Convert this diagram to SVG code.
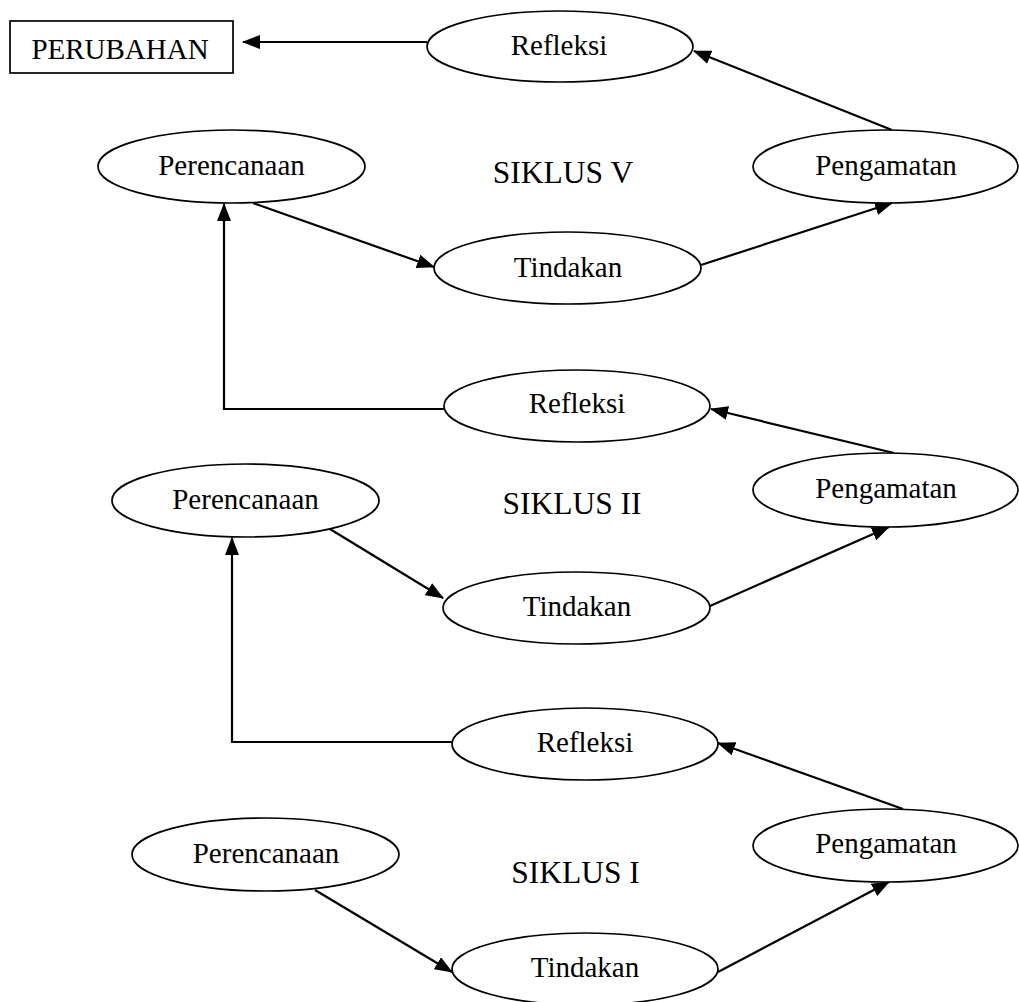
<svg xmlns="http://www.w3.org/2000/svg" width="1019" height="1002" viewBox="0 0 1019 1002">
<style>
.n{fill:#fff;stroke:#000;stroke-width:1.7}
.t{font-family:"Liberation Serif","Times New Roman",serif;font-size:29px;fill:#000;text-anchor:middle}
.s{font-family:"Liberation Serif","Times New Roman",serif;font-size:31.5px;fill:#000;text-anchor:middle}
.c{fill:none;stroke:#000;stroke-width:2.2}
</style>
<defs>
<marker id="ah" markerUnits="userSpaceOnUse" markerWidth="18" markerHeight="14" refX="17" refY="7" orient="auto">
<path d="M0,0 L18,7 L0,14 z" fill="#000"/>
</marker>
</defs>
<rect width="1019" height="1002" fill="#fff"/>
<g id="connectors">
<line class="c" x1="427" y1="42" x2="243" y2="42" marker-end="url(#ah)"/>
<line class="c" x1="892" y1="130" x2="694" y2="51" marker-end="url(#ah)"/>
<line class="c" x1="701" y1="265" x2="892" y2="203" marker-end="url(#ah)"/>
<line class="c" x1="253" y1="203" x2="434" y2="267" marker-end="url(#ah)"/>
<polyline class="c" points="444,409 224,409 224,204" marker-end="url(#ah)"/>
<line class="c" x1="894" y1="453" x2="711" y2="409" marker-end="url(#ah)"/>
<line class="c" x1="710" y1="606" x2="889" y2="527" marker-end="url(#ah)"/>
<line class="c" x1="325" y1="526" x2="443" y2="598" marker-end="url(#ah)"/>
<polyline class="c" points="452,742 232,742 232,538" marker-end="url(#ah)"/>
<line class="c" x1="903" y1="809" x2="718" y2="743" marker-end="url(#ah)"/>
<line class="c" x1="718" y1="972" x2="889" y2="882" marker-end="url(#ah)"/>
<line class="c" x1="315" y1="890" x2="452" y2="972" marker-end="url(#ah)"/>
</g>
<g id="perubahan"><rect class="n" x="10" y="21" width="223" height="52"/><text class="t" x="120" y="59">PERUBAHAN</text></g>
<g id="refleksi5"><ellipse class="n" cx="560" cy="46.5" rx="133" ry="35.5"/><text class="t" x="559" y="55">Refleksi</text></g>
<g id="perencanaan5"><ellipse class="n" cx="231.5" cy="166.5" rx="133.5" ry="36.5"/><text class="t" x="231.5" y="175">Perencanaan</text></g>
<g id="pengamatan5"><ellipse class="n" cx="885.5" cy="166.5" rx="132.5" ry="36.5"/><text class="t" x="886" y="175">Pengamatan</text></g>
<g id="tindakan5"><ellipse class="n" cx="567.5" cy="268" rx="133.5" ry="36"/><text class="t" x="568" y="277">Tindakan</text></g>
<text class="s" x="563" y="183">SIKLUS V</text>
<g id="refleksi2"><ellipse class="n" cx="577" cy="406" rx="133" ry="36"/><text class="t" x="577" y="413">Refleksi</text></g>
<g id="perencanaan2"><ellipse class="n" cx="245.5" cy="500.5" rx="133.5" ry="36.5"/><text class="t" x="245.5" y="509">Perencanaan</text></g>
<g id="pengamatan2"><ellipse class="n" cx="885.5" cy="490" rx="132.5" ry="37"/><text class="t" x="886" y="498">Pengamatan</text></g>
<g id="tindakan2"><ellipse class="n" cx="576.5" cy="608" rx="133.5" ry="36"/><text class="t" x="577" y="616">Tindakan</text></g>
<text class="s" x="572" y="514">SIKLUS II</text>
<g id="refleksi1"><ellipse class="n" cx="585" cy="744" rx="133" ry="36"/><text class="t" x="585" y="752">Refleksi</text></g>
<g id="perencanaan1"><ellipse class="n" cx="265.5" cy="854.5" rx="133.5" ry="36.5"/><text class="t" x="266" y="863">Perencanaan</text></g>
<g id="pengamatan1"><ellipse class="n" cx="885.5" cy="845.5" rx="132.5" ry="36.5"/><text class="t" x="886" y="853">Pengamatan</text></g>
<g id="tindakan1"><ellipse class="n" cx="585" cy="969" rx="133" ry="36"/><text class="t" x="585" y="977">Tindakan</text></g>
<text class="s" x="575.5" y="883">SIKLUS I</text>
</svg>
